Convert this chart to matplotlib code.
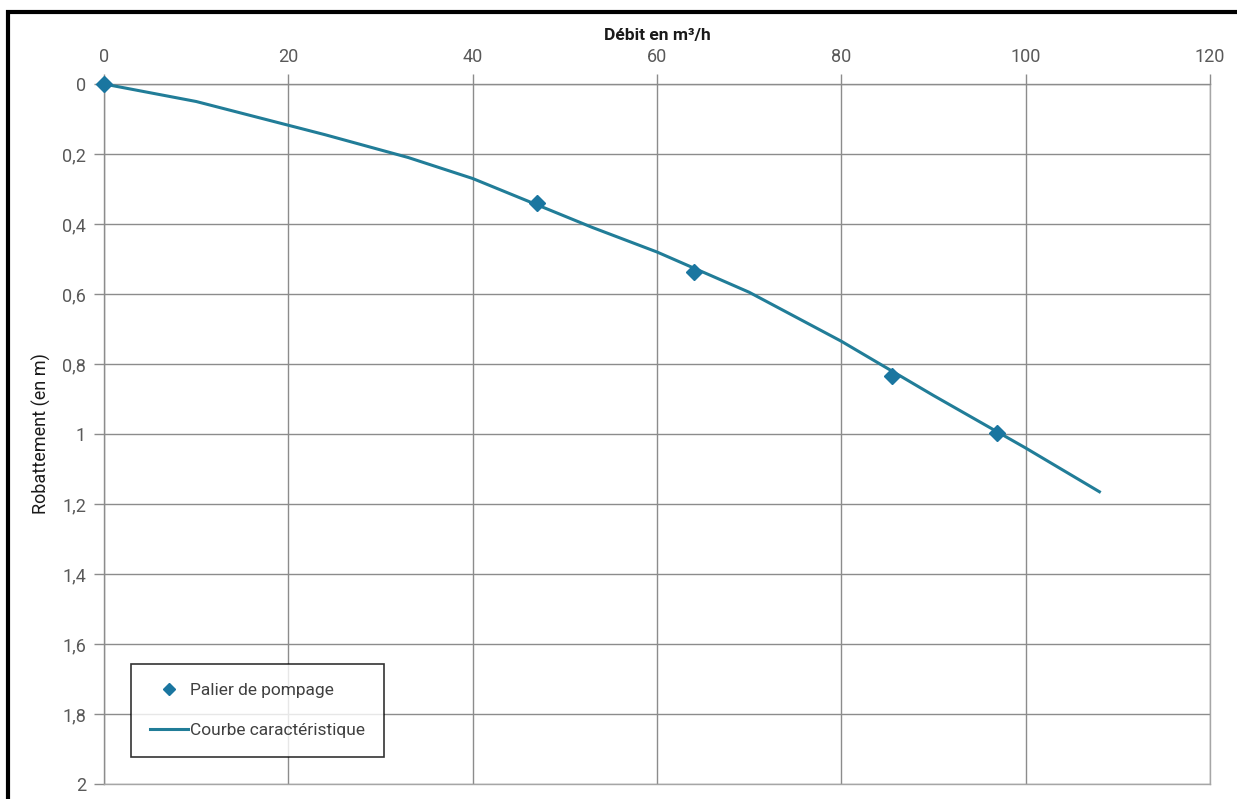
import numpy as np
import matplotlib.pyplot as plt
from matplotlib.patches import Rectangle

plt.rcParams['font.family'] = ['Roboto', 'DejaVu Sans']

# paliers de pompage (debit m3/h, rabattement m)
q_pal = [0, 47, 64, 85.5, 96.9]
s_pal = [0, 0.34, 0.537, 0.834, 0.997]

# courbe caracteristique
q_courbe = [0, 10, 24, 33, 40, 53, 60, 70, 80, 90, 100, 108]
s_courbe = [0, 0.05, 0.145, 0.21, 0.27, 0.41, 0.48, 0.595, 0.735, 0.89, 1.04, 1.165]

xticks = [0, 20, 40, 60, 80, 100, 120]
yticks = [0, 0.2, 0.4, 0.6, 0.8, 1, 1.2, 1.4, 1.6, 1.8, 2]
ylabels = ['0', '0,2', '0,4', '0,6', '0,8', '1', '1,2', '1,4', '1,6', '1,8', '2']

fig = plt.figure(figsize=(12.37, 7.99), dpi=100)
ax = fig.add_axes([104/1237, 1-784/799, 1106/1237, 700/799])

# cadre noir autour du graphique
fig.patches.append(Rectangle((8/1237, -0.1), 1.1, 1-12/799+0.1, transform=fig.transFigure,
                             fill=False, edgecolor='black', linewidth=3, clip_on=False))

ax.plot(q_courbe, s_courbe, color='#217D98', linewidth=2.2, label='Courbe caractéristique', zorder=3)
ax.plot(q_pal, s_pal, linestyle='none', marker='D', markersize=8.5, color='#1A76A0',
        label='Palier de pompage', zorder=4, clip_on=False)

ax.set_xlim(0, 120)
ax.set_ylim(2, 0)
ax.xaxis.tick_top()
ax.xaxis.set_label_position('top')
ax.set_xticks(xticks)
ax.set_yticks(yticks)
ax.set_yticklabels(ylabels)
ax.tick_params(axis='both', colors='#8c8c8c', length=7, width=1, labelcolor='#595959',
               labelsize=13, pad=6)
ax.grid(True, color='#8c8c8c', linewidth=1)
ax.set_axisbelow(True)
for sp in ax.spines.values():
    sp.set_color('#a6a6a6')
    sp.set_linewidth(1)
ax.spines['left'].set_color('#8c8c8c')
ax.spines['top'].set_color('#8c8c8c')

ax.set_xlabel('Débit en m³/h', fontsize=12.5, fontweight='bold', color='#1a1a1a', labelpad=6)
ax.set_ylabel('Robattement (en m)', fontsize=13, color='#1a1a1a', labelpad=8)

h, l = ax.get_legend_handles_labels()
leg = ax.legend(h[::-1], l[::-1], loc='lower left', bbox_to_anchor=(0.024, 0.038),
                fontsize=12.5, frameon=True, fancybox=False, edgecolor='black',
                borderpad=1.1, labelspacing=1.45, handlelength=2.2, handletextpad=0.1,
                borderaxespad=0, markerscale=0.75)
leg.get_frame().set_linewidth(1.2)
for t in leg.get_texts():
    t.set_color('#404040')

fig.savefig('out.png', dpi=100)
